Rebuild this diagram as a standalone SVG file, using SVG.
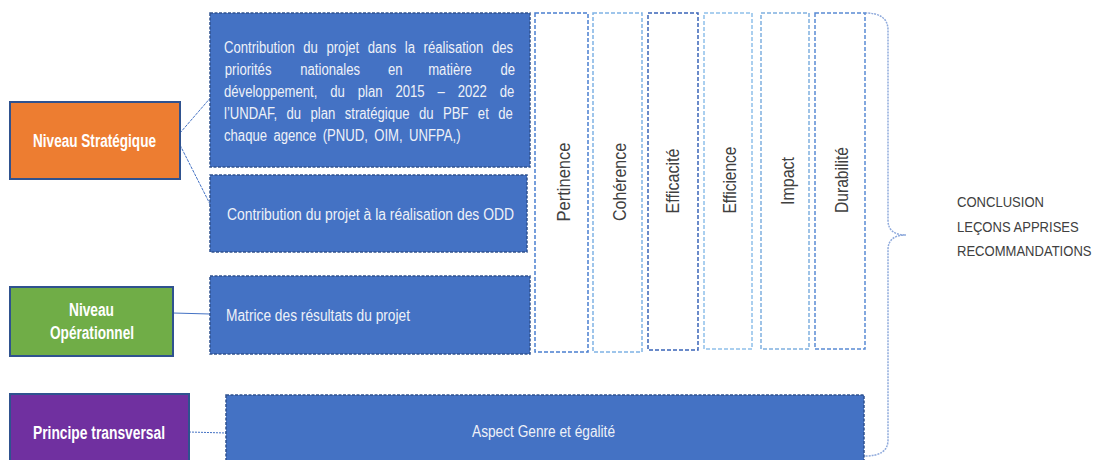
<svg xmlns="http://www.w3.org/2000/svg" width="1103" height="460" viewBox="0 0 1103 460">
<style>
.lvl{stroke:#2F528F;stroke-width:2}
.bb{fill:#4472C4;stroke:#2F528F;stroke-width:1.5;stroke-dasharray:3 1.5}
.col{fill:#FFFFFF;stroke-width:1.5;stroke-dasharray:4 2}
.lt{font-family:"Liberation Sans",Arial,sans-serif;font-weight:bold;font-size:17.5px;fill:#FFFFFF}
.bt{font-family:"Liberation Sans",Arial,sans-serif;font-size:16px;fill:#EEF1F8}
.ct{font-family:"Liberation Sans",Arial,sans-serif;font-size:18px;fill:#404040}
.rt{font-family:"Liberation Sans",Arial,sans-serif;font-size:15px;fill:#404040}
.con{fill:none;stroke:#4472C4;stroke-width:1}
</style>
<rect width="1103" height="460" fill="#FFFFFF"/>

<g id="connectors">
<line class="con" x1="180" y1="133" x2="212" y2="96" stroke-dasharray="3 1"/>
<line class="con" x1="180" y1="145" x2="212" y2="208" stroke-dasharray="3 1"/>
<line class="con" x1="173" y1="313" x2="210" y2="314"/>
<line class="con" x1="189" y1="432" x2="226" y2="433" stroke-dasharray="2 1"/>
<path id="brace" d="M865,13 Q888,13 888,30 L888,220 Q888,235 906,235 Q888,235 888,250 L888,440 Q888,456 865,456" fill="none" stroke="#8FAADC" stroke-width="1.5" stroke-dasharray="2 1"/>
</g>

<g id="niveau-strategique">
<rect class="lvl" x="10" y="102" width="170" height="77" fill="#ED7D31"/>
<text class="lt" x="33" y="147" textLength="123" lengthAdjust="spacingAndGlyphs">Niveau Stratégique</text>
</g>

<g id="niveau-operationnel">
<rect class="lvl" x="10" y="287" width="163" height="69" fill="#70AD47" stroke="#41719C"/>
<text class="lt" x="69" y="316" textLength="45" lengthAdjust="spacingAndGlyphs">Niveau</text>
<text class="lt" x="50" y="339" textLength="84" lengthAdjust="spacingAndGlyphs">Opérationnel</text>
</g>

<g id="principe-transversal">
<rect class="lvl" x="10" y="394" width="179" height="70" fill="#7030A0"/>
<text class="lt" x="33" y="439" textLength="132" lengthAdjust="spacingAndGlyphs">Principe transversal</text>
</g>

<g id="contribution-priorites">
<rect class="bb" x="210" y="13" width="320" height="154"/>
<g transform="translate(224,0) scale(0.82,1)">
<text class="bt" x="0" y="53" word-spacing="6">Contribution du projet dans la réalisation des</text>
<text class="bt" x="1" y="75">priorités</text>
<text class="bt" x="93" y="75">nationales</text>
<text class="bt" x="200" y="75">en</text>
<text class="bt" x="249" y="75">matière</text>
<text class="bt" x="355" y="75" text-anchor="end">de</text>
<text class="bt" x="0" y="97" word-spacing="11.3">développement, du plan 2015 – 2022 de</text>
<text class="bt" x="0" y="119" word-spacing="7">l’UNDAF, du plan stratégique du PBF et de</text>
<text class="bt" x="0" y="141" word-spacing="3.3">chaque agence (PNUD, OIM, UNFPA,)</text>
</g>
</g>

<g id="contribution-odd">
<rect class="bb" x="210" y="175" width="317" height="77"/>
<text class="bt" x="227" y="220" textLength="287" lengthAdjust="spacingAndGlyphs">Contribution du projet à la réalisation des ODD</text>
</g>

<g id="matrice">
<rect class="bb" x="210" y="276" width="320" height="78"/>
<text class="bt" x="226" y="321" textLength="184" lengthAdjust="spacingAndGlyphs">Matrice des résultats du projet</text>
</g>

<g id="aspect-genre">
<rect class="bb" x="226" y="395" width="638" height="70"/>
<text class="bt" x="472" y="437" textLength="143" lengthAdjust="spacingAndGlyphs">Aspect Genre et égalité</text>
</g>

<g id="pertinence">
<rect class="col" x="535" y="13" width="53" height="339" stroke="#4A7FD0"/>
<text class="ct" transform="translate(570,182) rotate(-90)" text-anchor="middle" textLength="79" lengthAdjust="spacingAndGlyphs">Pertinence</text>
</g>
<g id="coherence">
<rect class="col" x="593" y="13" width="49" height="339" stroke="#7FB2E5"/>
<text class="ct" transform="translate(626,182) rotate(-90)" text-anchor="middle" textLength="78" lengthAdjust="spacingAndGlyphs">Cohérence</text>
</g>
<g id="efficacite">
<rect class="col" x="648" y="13" width="50" height="337" stroke="#3A64B8"/>
<text class="ct" transform="translate(679,181) rotate(-90)" text-anchor="middle" textLength="65" lengthAdjust="spacingAndGlyphs">Efficacité</text>
</g>
<g id="efficience">
<rect class="col" x="704" y="13" width="48" height="336" stroke="#8FC0EA"/>
<text class="ct" transform="translate(736,180) rotate(-90)" text-anchor="middle" textLength="67" lengthAdjust="spacingAndGlyphs">Efficience</text>
</g>
<g id="impact">
<rect class="col" x="761" y="13" width="48" height="336" stroke="#7FB0E0"/>
<text class="ct" transform="translate(794,181) rotate(-90)" text-anchor="middle" textLength="48" lengthAdjust="spacingAndGlyphs">Impact</text>
</g>
<g id="durabilite">
<rect class="col" x="815" y="13" width="50" height="336" stroke="#5A8AD4"/>
<text class="ct" transform="translate(848,180) rotate(-90)" text-anchor="middle" textLength="66" lengthAdjust="spacingAndGlyphs">Durabilité</text>
</g>

<g id="conclusion">
<g transform="translate(957,0) scale(0.87,1)">
<text class="rt" x="0" y="207">CONCLUSION</text>
<text class="rt" x="0" y="232">LEÇONS APPRISES</text>
<text class="rt" x="0" y="256">RECOMMANDATIONS</text>
</g>
</g>
</svg>
